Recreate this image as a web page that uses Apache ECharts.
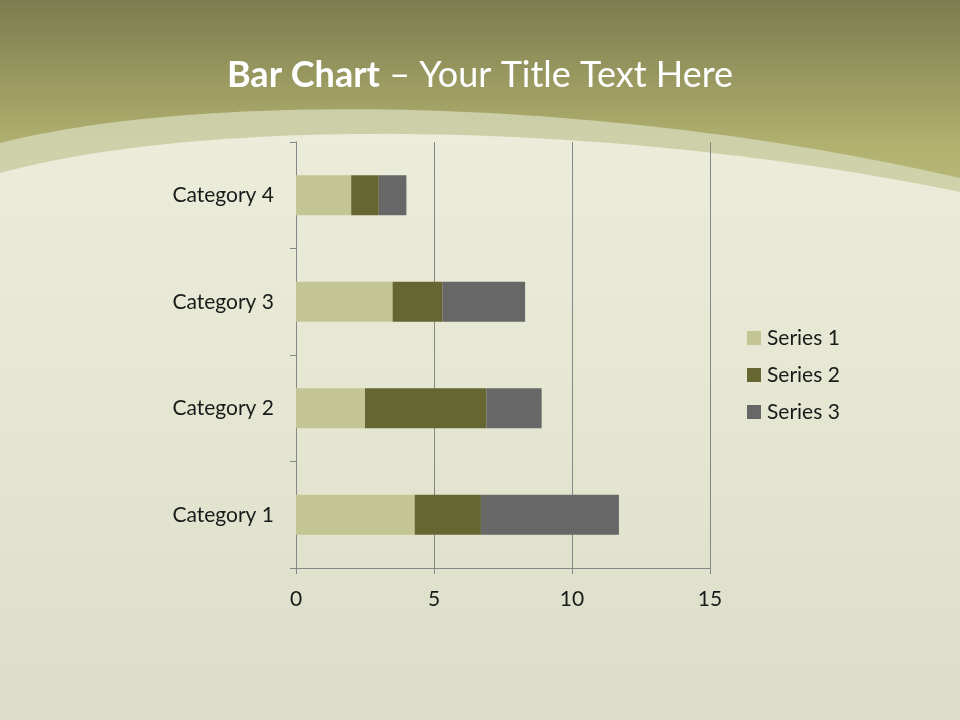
<!DOCTYPE html>
<html>
<head>
<meta charset="utf-8">
<script src="https://cdn.jsdelivr.net/npm/echarts@6/dist/echarts.min.js"></script>
<style>html,body{margin:0;padding:0;background:#e4e5d3;}#c{width:960px;height:720px;}</style>
</head>
<body>
<div id="c"></div>
<script>
const categories = ['Category 1', 'Category 2', 'Category 3', 'Category 4'];
const seriesNames = ['Series 1', 'Series 2', 'Series 3'];
const series1 = [4.3, 2.5, 3.5, 2.0];
const series2 = [2.4, 4.4, 1.8, 1.0];
const series3 = [5.0, 2.0, 3.0, 1.0];
const xTicks = [0, 5, 10, 15];
const colors = ['#c4c595', '#666633', '#676767'];

const chart = echarts.init(document.getElementById('c'), null, {renderer: 'canvas'});
const FONT = 'Lato';
const seriesData = [series1, series2, series3];

// decorative curved backdrop shape (not data)
function curve(p0, c1, c2, p3) {
  const pts = [];
  for (let i = 0; i <= 60; i++) {
    const t = i / 60, u = 1 - t;
    pts.push([
      u*u*u*p0[0] + 3*u*u*t*c1[0] + 3*u*t*t*c2[0] + t*t*t*p3[0],
      u*u*u*p0[1] + 3*u*u*t*c1[1] + 3*u*t*t*c2[1] + t*t*t*p3[1]
    ]);
  }
  pts.push([960, 720], [0, 720]);
  return pts;
}

chart.setOption({
  animation: false,
  color: colors,
  textStyle: {fontFamily: FONT},
  graphic: [
    {type: 'rect', z: -20, silent: true, shape: {x: 0, y: 0, width: 960, height: 720},
     style: {fill: new echarts.graphic.LinearGradient(0, 0, 0, 1, [
       {offset: 0, color: '#7c7c4f'}, {offset: 0.2, color: '#b0b06f'}, {offset: 0.3, color: '#bcbd7c'}, {offset: 1, color: '#bcbd7c'}])}},
    {type: 'polygon', z: -19, silent: true,
     shape: {points: curve([0, 143], [200, 92], [600, 95], [960, 178])},
     style: {fill: 'rgba(214,216,184,0.8)'}},
    {type: 'polygon', z: -18, silent: true,
     shape: {points: curve([0, 173], [200, 118], [600, 118], [960, 192])},
     style: {fill: new echarts.graphic.LinearGradient(0, 0, 0, 1, [
       {offset: 0, color: '#ebecd9'}, {offset: 0.5, color: '#e5e6d2'}, {offset: 1, color: '#dcddc8'}])}}
  ],
  title: {
    text: '{b|Bar Chart}{n| – Your Title Text Here}',
    left: 'center',
    top: 52,
    textStyle: {
      rich: {
        b: {fontFamily: FONT, fontSize: 36, fontWeight: 'bold', color: '#ffffff'},
        n: {fontFamily: FONT, fontSize: 36, fontWeight: 'normal', color: '#ffffff'}
      }
    }
  },
  legend: {
    orient: 'vertical',
    left: 747,
    top: 327,
    padding: 0,
    icon: 'rect',
    itemWidth: 14,
    itemHeight: 14,
    itemGap: 15,
    data: seriesNames,
    textStyle: {fontFamily: FONT, fontSize: 21, color: '#1a1a1a', lineHeight: 22, padding: [0, 0, 0, 1]}
  },
  grid: {left: 296, right: 250, top: 142, bottom: 152, containLabel: false},
  xAxis: {
    type: 'value',
    min: 0, max: 15, interval: 5,
    axisLine: {show: true, lineStyle: {color: '#868686', width: 1}},
    axisTick: {show: true, length: 6, lineStyle: {color: '#868686'}},
    splitLine: {show: true, lineStyle: {color: '#868686', width: 1}},
    axisLabel: {fontFamily: FONT, fontSize: 21, color: '#1a1a1a', margin: 21,
      formatter: v => xTicks.includes(v) ? String(v) : ''}
  },
  yAxis: {
    type: 'category',
    data: categories,
    axisLine: {show: true, lineStyle: {color: '#868686', width: 1}},
    axisTick: {show: true, length: 6, lineStyle: {color: '#868686'}},
    axisLabel: {fontFamily: FONT, fontSize: 21, color: '#1a1a1a', margin: 22}
  },
  series: seriesNames.map((n, i) => ({
    name: n,
    type: 'bar',
    stack: 'total',
    barWidth: 40,
    data: seriesData[i],
    itemStyle: {color: colors[i]}
  }))
});
</script>
</body>
</html>
